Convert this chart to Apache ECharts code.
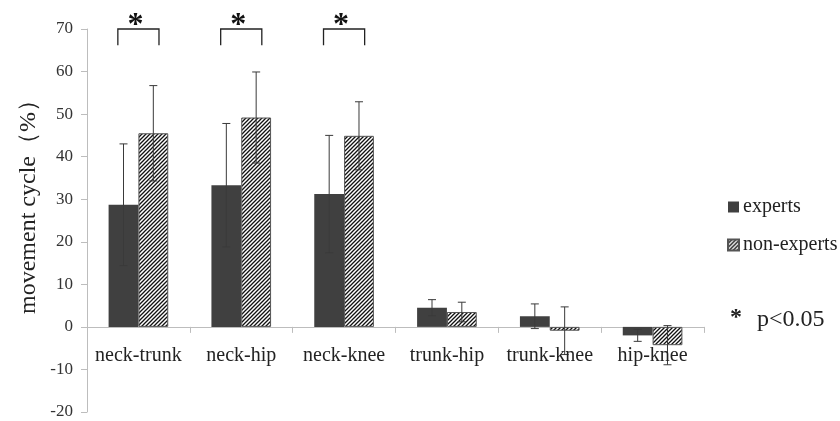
<!DOCTYPE html>
<html>
<head>
<meta charset="utf-8">
<script src="https://cdn.jsdelivr.net/npm/echarts@6/dist/echarts.min.js"></script>
<style>html,body{margin:0;padding:0;background:#fff;}#c{width:840px;height:421px;}</style>
</head>
<body>
<div id="c"></div>
<script>
const categories = ['neck-trunk', 'neck-hip', 'neck-knee', 'trunk-hip', 'trunk-knee', 'hip-knee'];
const expertsMean = [28.7, 33.3, 31.2, 4.5, 2.5, -2.0];
const expertsSD = [14.3, 14.5, 13.8, 1.9, 2.9, 1.4];
const nonExpertsMean = [45.5, 49.2, 44.9, 3.5, -0.9, -4.3];
const nonExpertsSD = [11.2, 10.7, 8.0, 2.3, 5.6, 4.6];
const significant = [0, 1, 2];
const yTicks = { min: -20, max: 70, interval: 10 };

const FONT = '"Liberation Serif", "Times New Roman", serif';

// hatch pattern
const pc = document.createElement('canvas');
pc.width = 4; pc.height = 4;
const g = pc.getContext('2d');
g.fillStyle = '#fff'; g.fillRect(0, 0, 4, 4);
g.strokeStyle = '#111'; g.lineWidth = 1.3;
g.beginPath();
g.moveTo(-1, 5); g.lineTo(5, -1);
g.moveTo(-1, 1); g.lineTo(1, -1);
g.moveTo(3, 5); g.lineTo(5, 3);
g.stroke();
const hatch = { image: pc, repeat: 'repeat' };

const BAR_FRAC = 0.29;

function errData(mean, sd, side) {
  return mean.map((m, i) => [i, m, sd[i], side]);
}

function renderErr(params, api) {
  const idx = api.value(0), m = api.value(1), sd = api.value(2), side = api.value(3);
  const band = api.size([1, 0])[0];
  const off = side * band * BAR_FRAC / 2;
  const c = api.coord([idx, m]);
  const top = api.coord([idx, m + sd]);
  const bot = api.coord([idx, m - sd]);
  const x = c[0] + off;
  const cap = 4;
  const st = { stroke: '#3a3a3a', lineWidth: 1 };
  return {
    type: 'group',
    children: [
      { type: 'line', shape: { x1: x, y1: top[1], x2: x, y2: bot[1] }, style: st },
      { type: 'line', shape: { x1: x - cap, y1: top[1], x2: x + cap, y2: top[1] }, style: st },
      { type: 'line', shape: { x1: x - cap, y1: bot[1], x2: x + cap, y2: bot[1] }, style: st }
    ]
  };
}

function renderBracket(params, api) {
  const idx = api.value(0);
  const band = api.size([1, 0])[0];
  const topP = api.coord([idx, 70]);
  const botP = api.coord([idx, 66.2]);
  const xl = topP[0] - band * 0.2;
  const xr = topP[0] + band * 0.2;
  return {
    type: 'group',
    children: [
      { type: 'polyline', shape: { points: [[xl, botP[1]], [xl, topP[1]], [xr, topP[1]], [xr, botP[1]]] },
        style: { stroke: '#222', lineWidth: 1.3, fill: null } },
      { type: 'text', style: { text: '*', x: topP[0] - 3, y: topP[1] - 19, textAlign: 'center', textVerticalAlign: 'top',
        font: 'bold 32px ' + FONT, fill: '#111' } }
    ]
  };
}

function renderCatLabel(params, api) {
  const idx = api.value(0);
  const p = api.coord([idx, 0]);
  return { type: 'text', style: { text: categories[idx], x: p[0], y: p[1] + 29, textAlign: 'center', textVerticalAlign: 'middle',
    font: '20px ' + FONT, fill: '#222' } };
}

const chart = echarts.init(document.getElementById('c'), null, { renderer: 'canvas' });
chart.setOption({
  animation: false,
  backgroundColor: '#fff',
  grid: { left: 87, right: 136, top: 29, bottom: 9, containLabel: false, outerBoundsMode: 'none' },
  legend: {
    orient: 'vertical', left: 727, top: 197, padding: 0, itemWidth: 11, itemHeight: 11, itemGap: 18,
    icon: 'rect',
    textStyle: { fontFamily: FONT, fontSize: 20, color: '#222', padding: [0, 0, 0, -1] },
    data: ['experts', 'non-experts']
  },
  xAxis: {
    type: 'category', data: categories,
    axisLine: { onZero: true, lineStyle: { color: '#bdbdbd', width: 1 } },
    axisTick: { show: true, length: 6, lineStyle: { color: '#bdbdbd' } },
    axisLabel: { show: false }
  },
  yAxis: {
    type: 'value', min: yTicks.min, max: yTicks.max, interval: yTicks.interval,
    axisLine: { show: true, lineStyle: { color: '#bdbdbd', width: 1 } },
    axisTick: { show: true, length: 6, lineStyle: { color: '#bdbdbd' } },
    splitLine: { show: false },
    axisLabel: { fontFamily: FONT, fontSize: 17, color: '#333', margin: 14 }
  },
  graphic: [
    { type: 'text', x: 29, y: 201, rotation: Math.PI / 2,
      style: { text: 'movement cycle（%）', font: '24px ' + FONT, fill: '#222', textAlign: 'center', textVerticalAlign: 'middle' } },
    { type: 'text', x: 736, y: 306,
      style: { text: '*', font: 'bold 24px ' + FONT, fill: '#222', textAlign: 'center', textVerticalAlign: 'top' } },
    { type: 'text', x: 757, y: 320,
      style: { text: 'p<0.05', font: '24px ' + FONT, fill: '#222', textAlign: 'left', textVerticalAlign: 'middle' } }
  ],
  series: [
    { name: 'experts', type: 'bar', data: expertsMean, barWidth: (BAR_FRAC * 100) + '%', barGap: '0%',
      itemStyle: { color: '#404040', borderColor: '#404040', borderWidth: 0 } },
    { name: 'non-experts', type: 'bar', data: nonExpertsMean, barWidth: (BAR_FRAC * 100) + '%', barGap: '0%',
      itemStyle: { color: hatch, borderColor: '#555', borderWidth: 1 } },
    { type: 'custom', renderItem: renderErr, data: errData(expertsMean, expertsSD, -1), encode: { x: 0, y: 1 }, z: 5, silent: true },
    { type: 'custom', renderItem: renderErr, data: errData(nonExpertsMean, nonExpertsSD, 1), encode: { x: 0, y: 1 }, z: 5, silent: true },
    { type: 'custom', renderItem: renderBracket, data: significant.map(i => [i]), encode: { x: 0 }, z: 5, silent: true },
    { type: 'custom', renderItem: renderCatLabel, data: categories.map((c, i) => [i]), encode: { x: 0 }, z: 6, silent: true, clip: false }
  ]
});
</script>
</body>
</html>
